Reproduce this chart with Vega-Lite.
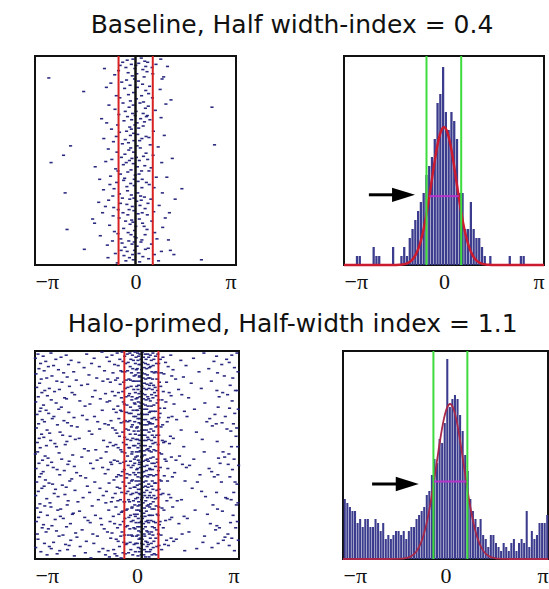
{
  "$schema": "https://vega.github.io/schema/vega-lite/v6.json",
  "background": "white",
  "padding": {"left": 32, "top": 12, "right": 0, "bottom": 0},
  "config": {
    "view": {"stroke": "#111111", "strokeWidth": 2},
    "axis": {"grid": false, "domain": false, "ticks": false, "title": null, "labelFont": "Liberation Serif", "labelFontSize": 22, "labelColor": "#111111", "labelPadding": 6},
    "title": {"font": "DejaVu Sans", "fontSize": 25, "fontWeight": "normal", "color": "#111111", "anchor": "middle"}
  },
  "datasets": {
    "topDots": [
      {"x":-2.71,"t":21},{"x":-2.64,"t":102},{"x":-2.25,"t":95},{"x":-2.2,"t":131},{"x":-2.14,"t":166},{"x":-2.03,"t":86},
      {"x":-1.62,"t":34},{"x":-1.6,"t":185},{"x":-1.34,"t":156},{"x":-1.26,"t":106},{"x":-1.28,"t":160},{"x":-1.15,"t":140},
      {"x":-1.1,"t":172},{"x":-1.06,"t":60},{"x":-1.12,"t":118},
      {"x":-1.0,"t":128},{"x":-0.97,"t":12},{"x":-1.03,"t":150},{"x":-0.99,"t":79},
      {"x":-0.94,"t":144},{"x":-0.9,"t":64},{"x":-0.88,"t":181},{"x":-0.93,"t":101},{"x":-0.91,"t":30},
      {"x":-0.86,"t":193},{"x":-0.83,"t":47},{"x":-0.8,"t":123},{"x":-0.85,"t":89},{"x":-0.81,"t":162},{"x":-0.84,"t":138},
      {"x":-0.78,"t":115},{"x":-0.75,"t":70},{"x":-0.72,"t":177},{"x":-0.7,"t":153},{"x":-0.77,"t":26},{"x":-0.74,"t":99},{"x":-0.71,"t":134},
      {"x":-0.69,"t":82},{"x":-0.66,"t":168},{"x":-0.64,"t":51},{"x":-0.62,"t":108},{"x":-0.68,"t":145},{"x":-0.65,"t":18},{"x":-0.63,"t":189},{"x":-0.67,"t":127},
      {"x":-0.6,"t":38},{"x":-0.58,"t":92},{"x":-0.55,"t":170},{"x":-0.53,"t":14},{"x":-0.59,"t":121},{"x":-0.56,"t":66},{"x":-0.54,"t":147},{"x":-0.57,"t":198},{"x":-0.6,"t":77},{"x":-0.55,"t":110},
      {"x":-0.52,"t":56},{"x":-0.5,"t":132},{"x":-0.48,"t":9},{"x":-0.46,"t":175},{"x":-0.44,"t":97},{"x":-0.51,"t":155},{"x":-0.49,"t":40},{"x":-0.47,"t":113},{"x":-0.45,"t":186},{"x":-0.5,"t":73},{"x":-0.47,"t":141},
      {"x":-0.43,"t":25},{"x":-0.41,"t":84},{"x":-0.39,"t":150},{"x":-0.37,"t":119},{"x":-0.36,"t":62},{"x":-0.42,"t":179},{"x":-0.4,"t":6},{"x":-0.38,"t":104},{"x":-0.36,"t":191},{"x":-0.41,"t":136},{"x":-0.39,"t":45},{"x":-0.37,"t":165},
      {"x":-0.34,"t":31},{"x":-0.33,"t":94},{"x":-0.31,"t":158},{"x":-0.3,"t":11},{"x":-0.28,"t":72},{"x":-0.27,"t":125},{"x":-0.33,"t":183},{"x":-0.32,"t":53},{"x":-0.29,"t":102},{"x":-0.27,"t":142},{"x":-0.34,"t":117},{"x":-0.3,"t":196},{"x":-0.28,"t":23},{"x":-0.32,"t":80},
      {"x":-0.26,"t":4},{"x":-0.25,"t":58},{"x":-0.24,"t":111},{"x":-0.23,"t":169},{"x":-0.22,"t":37},{"x":-0.21,"t":90},{"x":-0.2,"t":147},{"x":-0.19,"t":193},{"x":-0.18,"t":68},{"x":-0.25,"t":129},{"x":-0.23,"t":16},{"x":-0.21,"t":177},{"x":-0.2,"t":49},{"x":-0.19,"t":100},{"x":-0.24,"t":152},{"x":-0.22,"t":83},{"x":-0.18,"t":137},{"x":-0.26,"t":187},
      {"x":-0.17,"t":28},{"x":-0.16,"t":76},{"x":-0.15,"t":122},{"x":-0.14,"t":171},{"x":-0.13,"t":8},{"x":-0.12,"t":61},{"x":-0.11,"t":98},{"x":-0.1,"t":144},{"x":-0.09,"t":190},{"x":-0.16,"t":43},{"x":-0.14,"t":109},{"x":-0.12,"t":157},{"x":-0.1,"t":19},{"x":-0.15,"t":88},{"x":-0.13,"t":133},{"x":-0.11,"t":180},{"x":-0.09,"t":55},{"x":-0.17,"t":161},{"x":-0.13,"t":70},
      {"x":-0.08,"t":3},{"x":-0.07,"t":47},{"x":-0.06,"t":92},{"x":-0.05,"t":136},{"x":-0.04,"t":178},{"x":-0.03,"t":22},{"x":-0.02,"t":66},{"x":-0.01,"t":114},{"x":-0.08,"t":159},{"x":-0.07,"t":195},{"x":-0.06,"t":35},{"x":-0.05,"t":81},{"x":-0.04,"t":124},{"x":-0.03,"t":167},{"x":-0.02,"t":12},{"x":-0.01,"t":57},{"x":-0.07,"t":103},{"x":-0.05,"t":148},{"x":-0.03,"t":186},{"x":-0.06,"t":74},{"x":-0.04,"t":118},{"x":-0.02,"t":173},
      {"x":0.01,"t":9},{"x":0.02,"t":53},{"x":0.03,"t":97},{"x":0.04,"t":139},{"x":0.05,"t":182},{"x":0.06,"t":30},{"x":0.07,"t":75},{"x":0.08,"t":120},{"x":0.01,"t":163},{"x":0.03,"t":41},{"x":0.05,"t":86},{"x":0.07,"t":131},{"x":0.02,"t":174},{"x":0.04,"t":17},{"x":0.06,"t":106},{"x":0.08,"t":151},{"x":0.05,"t":64},
      {"x":0.09,"t":24},{"x":0.1,"t":69},{"x":0.11,"t":113},{"x":0.12,"t":156},{"x":0.13,"t":197},{"x":0.14,"t":45},{"x":0.15,"t":88},{"x":0.16,"t":134},{"x":0.17,"t":178},{"x":0.1,"t":7},{"x":0.12,"t":100},{"x":0.14,"t":143},{"x":0.16,"t":60},{"x":0.11,"t":189},{"x":0.13,"t":81},
      {"x":0.18,"t":2},{"x":0.19,"t":38},{"x":0.2,"t":79},{"x":0.21,"t":118},{"x":0.22,"t":160},{"x":0.23,"t":13},{"x":0.24,"t":55},{"x":0.25,"t":96},{"x":0.18,"t":138},{"x":0.2,"t":176},{"x":0.22,"t":27},{"x":0.24,"t":67},{"x":0.19,"t":110},{"x":0.21,"t":150},{"x":0.23,"t":192},{"x":0.25,"t":44},{"x":0.2,"t":126},
      {"x":0.27,"t":20},{"x":0.28,"t":63},{"x":0.29,"t":105},{"x":0.3,"t":146},{"x":0.31,"t":185},{"x":0.32,"t":33},{"x":0.33,"t":77},{"x":0.34,"t":121},{"x":0.27,"t":163},{"x":0.29,"t":5},{"x":0.31,"t":50},{"x":0.33,"t":93},{"x":0.28,"t":135},{"x":0.3,"t":171},{"x":0.32,"t":10},{"x":0.34,"t":58},
      {"x":0.36,"t":15},{"x":0.37,"t":57},{"x":0.38,"t":99},{"x":0.39,"t":141},{"x":0.4,"t":184},{"x":0.41,"t":36},{"x":0.42,"t":78},{"x":0.43,"t":123},{"x":0.36,"t":166},{"x":0.38,"t":6},{"x":0.4,"t":48},{"x":0.42,"t":110},{"x":0.37,"t":152},{"x":0.41,"t":194},
      {"x":0.44,"t":29},{"x":0.46,"t":85},{"x":0.48,"t":137},{"x":0.5,"t":180},{"x":0.52,"t":11},{"x":0.45,"t":61},{"x":0.49,"t":107},{"x":0.51,"t":158},
      {"x":0.53,"t":40},{"x":0.55,"t":95},{"x":0.57,"t":149},{"x":0.59,"t":190},{"x":0.54,"t":17},{"x":0.56,"t":72},{"x":0.58,"t":126},{"x":0.6,"t":169},
      {"x":0.62,"t":52},{"x":0.65,"t":116},{"x":0.67,"t":175},{"x":0.64,"t":8},
      {"x":0.72,"t":196},{"x":0.71,"t":87},{"x":0.74,"t":143},{"x":0.77,"t":32},
      {"x":0.79,"t":3},{"x":0.8,"t":59},{"x":0.82,"t":102},{"x":0.84,"t":131},{"x":0.85,"t":164},{"x":0.81,"t":187},{"x":0.83,"t":22},
      {"x":0.88,"t":20},{"x":0.9,"t":76},{"x":0.93,"t":155},{"x":0.95,"t":46},
      {"x":0.98,"t":116},{"x":1.0,"t":10},{"x":1.03,"t":176},
      {"x":1.09,"t":186},{"x":1.11,"t":42},{"x":1.06,"t":150},
      {"x":1.15,"t":98},{"x":1.2,"t":190},{"x":1.24,"t":137},{"x":1.45,"t":127},{"x":2.06,"t":195},{"x":2.39,"t":49},{"x":2.47,"t":85}
    ],
    "botDots": [
      {"x":-3.13,"t":7},{"x":-3.11,"t":22},{"x":-3.09,"t":35},{"x":-3.12,"t":49},{"x":-3.08,"t":61},{"x":-3.1,"t":74},{"x":-3.07,"t":88},{"x":-3.13,"t":99},{"x":-3.11,"t":113},{"x":-3.09,"t":126},{"x":-3.12,"t":139},{"x":-3.08,"t":151},{"x":-3.1,"t":164},{"x":-3.07,"t":176},{"x":-3.12,"t":189},
      {"x":-3.05,"t":3},{"x":-3.02,"t":17},{"x":-3.0,"t":31},{"x":-3.04,"t":44},{"x":-2.99,"t":58},{"x":-3.03,"t":70},{"x":-3.01,"t":84},{"x":-3.06,"t":97},{"x":-3.02,"t":108},{"x":-3.0,"t":121},{"x":-3.04,"t":135},{"x":-2.99,"t":147},{"x":-3.03,"t":160},{"x":-3.05,"t":181},
      {"x":-2.97,"t":12},{"x":-2.95,"t":27},{"x":-2.93,"t":40},{"x":-2.96,"t":55},{"x":-2.92,"t":66},{"x":-2.94,"t":80},{"x":-2.98,"t":93},{"x":-2.91,"t":105},{"x":-2.95,"t":118},{"x":-2.93,"t":132},{"x":-2.97,"t":155},{"x":-2.92,"t":170},{"x":-2.96,"t":193},
      {"x":-2.89,"t":5},{"x":-2.86,"t":19},{"x":-2.84,"t":38},{"x":-2.88,"t":52},{"x":-2.85,"t":68},{"x":-2.87,"t":83},{"x":-2.83,"t":101},{"x":-2.89,"t":116},{"x":-2.86,"t":130},{"x":-2.84,"t":149},{"x":-2.88,"t":167},{"x":-2.85,"t":185},
      {"x":-2.81,"t":10},{"x":-2.78,"t":26},{"x":-2.76,"t":43},{"x":-2.8,"t":57},{"x":-2.77,"t":76},{"x":-2.79,"t":91},{"x":-2.75,"t":110},{"x":-2.82,"t":124},{"x":-2.78,"t":142},{"x":-2.76,"t":158},{"x":-2.8,"t":174},{"x":-2.77,"t":196},
      {"x":-2.73,"t":15},{"x":-2.7,"t":36},{"x":-2.72,"t":60},{"x":-2.69,"t":79},{"x":-2.74,"t":103},{"x":-2.71,"t":127},{"x":-2.68,"t":146},{"x":-2.73,"t":171},{"x":-2.7,"t":188},
      {"x":-2.65,"t":2},{"x":-2.62,"t":24},{"x":-2.64,"t":47},{"x":-2.61,"t":65},{"x":-2.66,"t":86},{"x":-2.63,"t":107},{"x":-2.6,"t":128},{"x":-2.65,"t":150},{"x":-2.62,"t":168},{"x":-2.64,"t":190},
      {"x":-2.57,"t":14},{"x":-2.54,"t":39},{"x":-2.56,"t":63},{"x":-2.53,"t":89},{"x":-2.58,"t":112},{"x":-2.55,"t":137},{"x":-2.52,"t":162},{"x":-2.57,"t":184},
      {"x":-2.5,"t":8},{"x":-2.47,"t":29},{"x":-2.49,"t":50},{"x":-2.45,"t":71},{"x":-2.48,"t":92},{"x":-2.46,"t":114},{"x":-2.51,"t":133},{"x":-2.44,"t":153},{"x":-2.48,"t":173},{"x":-2.46,"t":195},
      {"x":-2.42,"t":18},{"x":-2.39,"t":37},{"x":-2.41,"t":56},{"x":-2.37,"t":78},{"x":-2.4,"t":98},{"x":-2.38,"t":119},{"x":-2.43,"t":140},{"x":-2.36,"t":159},{"x":-2.4,"t":178},{"x":-2.38,"t":192},
      {"x":-2.34,"t":6},{"x":-2.31,"t":30},{"x":-2.33,"t":54},{"x":-2.29,"t":81},{"x":-2.32,"t":104},{"x":-2.3,"t":129},{"x":-2.35,"t":152},{"x":-2.28,"t":177},
      {"x":-2.26,"t":21},{"x":-2.23,"t":45},{"x":-2.25,"t":67},{"x":-2.21,"t":90},{"x":-2.24,"t":115},{"x":-2.22,"t":138},{"x":-2.27,"t":161},{"x":-2.2,"t":186},
      {"x":-2.18,"t":4},{"x":-2.15,"t":25},{"x":-2.17,"t":46},{"x":-2.14,"t":69},{"x":-2.16,"t":87},{"x":-2.13,"t":109},{"x":-2.18,"t":131},{"x":-2.15,"t":148},{"x":-2.17,"t":169},{"x":-2.14,"t":191},
      {"x":-2.11,"t":13},{"x":-2.08,"t":34},{"x":-2.1,"t":59},{"x":-2.06,"t":82},{"x":-2.09,"t":106},{"x":-2.07,"t":125},{"x":-2.12,"t":144},{"x":-2.05,"t":166},{"x":-2.09,"t":187},
      {"x":-2.03,"t":9},{"x":-2.0,"t":40},{"x":-2.02,"t":72},{"x":-1.98,"t":100},{"x":-2.01,"t":123},{"x":-1.99,"t":157},{"x":-2.04,"t":182},
      {"x":-1.95,"t":20},{"x":-1.92,"t":42},{"x":-1.94,"t":64},{"x":-1.9,"t":85},{"x":-1.93,"t":111},{"x":-1.91,"t":134},{"x":-1.96,"t":156},{"x":-1.89,"t":175},{"x":-1.93,"t":197},
      {"x":-1.87,"t":28},{"x":-1.84,"t":73},{"x":-1.86,"t":117},{"x":-1.82,"t":145},{"x":-1.85,"t":179},
      {"x":-1.79,"t":11},{"x":-1.76,"t":48},{"x":-1.78,"t":84},{"x":-1.74,"t":120},{"x":-1.77,"t":154},{"x":-1.75,"t":188},
      {"x":-1.71,"t":33},{"x":-1.68,"t":62},{"x":-1.7,"t":102},{"x":-1.66,"t":141},{"x":-1.69,"t":172},
      {"x":-1.63,"t":16},{"x":-1.6,"t":53},{"x":-1.62,"t":94},{"x":-1.58,"t":122},{"x":-1.61,"t":160},{"x":-1.59,"t":194},
      {"x":-1.55,"t":3},{"x":-1.52,"t":32},{"x":-1.54,"t":66},{"x":-1.5,"t":96},{"x":-1.53,"t":130},{"x":-1.51,"t":163},{"x":-1.56,"t":183},
      {"x":-1.48,"t":23},{"x":-1.45,"t":51},{"x":-1.47,"t":77},{"x":-1.43,"t":108},{"x":-1.46,"t":136},{"x":-1.44,"t":165},{"x":-1.42,"t":199},
      {"x":-1.4,"t":12},{"x":-1.37,"t":44},{"x":-1.39,"t":80},{"x":-1.35,"t":113},{"x":-1.38,"t":149},{"x":-1.36,"t":176},
      {"x":-1.32,"t":7},{"x":-1.29,"t":38},{"x":-1.31,"t":63},{"x":-1.27,"t":95},{"x":-1.3,"t":126},{"x":-1.28,"t":158},{"x":-1.33,"t":185},
      {"x":-1.24,"t":26},{"x":-1.21,"t":68},{"x":-1.23,"t":105},{"x":-1.19,"t":143},{"x":-1.22,"t":178},
      {"x":-1.16,"t":15},{"x":-1.13,"t":46},{"x":-1.15,"t":75},{"x":-1.11,"t":103},{"x":-1.14,"t":132},{"x":-1.12,"t":161},{"x":-1.17,"t":193},
      {"x":-1.08,"t":1},{"x":-1.05,"t":29},{"x":-1.07,"t":57},{"x":-1.03,"t":86},{"x":-1.06,"t":112},{"x":-1.04,"t":139},{"x":-1.09,"t":167},{"x":-1.05,"t":190},
      {"x":-1.0,"t":19},{"x":-0.97,"t":41},{"x":-0.99,"t":70},{"x":-0.95,"t":97},{"x":-0.98,"t":118},{"x":-0.96,"t":146},{"x":-1.01,"t":171},{"x":-0.97,"t":196},
      {"x":-0.93,"t":6},{"x":-0.9,"t":27},{"x":-0.92,"t":49},{"x":-0.88,"t":71},{"x":-0.91,"t":92},{"x":-0.89,"t":114},{"x":-0.94,"t":135},{"x":-0.87,"t":153},{"x":-0.91,"t":174},{"x":-0.89,"t":192},
      {"x":-0.85,"t":10},{"x":-0.82,"t":30},{"x":-0.84,"t":48},{"x":-0.8,"t":67},{"x":-0.83,"t":88},{"x":-0.81,"t":107},{"x":-0.86,"t":127},{"x":-0.79,"t":145},{"x":-0.83,"t":164},{"x":-0.81,"t":180},{"x":-0.85,"t":198},
      {"x":-0.77,"t":4},{"x":-0.74,"t":21},{"x":-0.76,"t":39},{"x":-0.72,"t":56},{"x":-0.75,"t":74},{"x":-0.73,"t":91},{"x":-0.78,"t":109},{"x":-0.71,"t":124},{"x":-0.75,"t":141},{"x":-0.73,"t":159},{"x":-0.77,"t":175},{"x":-0.72,"t":191},
      {"x":-0.69,"t":13},{"x":-0.66,"t":28},{"x":-0.68,"t":43},{"x":-0.64,"t":59},{"x":-0.67,"t":76},{"x":-0.65,"t":90},{"x":-0.7,"t":105},{"x":-0.63,"t":121},{"x":-0.67,"t":137},{"x":-0.65,"t":150},{"x":-0.69,"t":166},{"x":-0.64,"t":181},{"x":-0.68,"t":195},
      {"x":-0.61,"t":2},{"x":-0.58,"t":14},{"x":-0.6,"t":26},{"x":-0.57,"t":40},{"x":-0.59,"t":53},{"x":-0.56,"t":65},{"x":-0.62,"t":79},{"x":-0.58,"t":93},{"x":-0.6,"t":106},{"x":-0.57,"t":119},{"x":-0.61,"t":131},{"x":-0.59,"t":144},{"x":-0.56,"t":157},{"x":-0.6,"t":170},{"x":-0.58,"t":183},{"x":-0.62,"t":197},
      {"x":-0.53,"t":8},{"x":-0.5,"t":19},{"x":-0.52,"t":32},{"x":-0.48,"t":45},{"x":-0.51,"t":57},{"x":-0.49,"t":69},{"x":-0.54,"t":82},{"x":-0.5,"t":95},{"x":-0.52,"t":108},{"x":-0.49,"t":120},{"x":-0.53,"t":132},{"x":-0.51,"t":143},{"x":-0.48,"t":155},{"x":-0.52,"t":167},{"x":-0.5,"t":178},{"x":-0.54,"t":188},{"x":-0.49,"t":199},
      {"x":-0.46,"t":1},{"x":-0.43,"t":10},{"x":-0.45,"t":20},{"x":-0.41,"t":30},{"x":-0.44,"t":39},{"x":-0.42,"t":49},{"x":-0.47,"t":58},{"x":-0.4,"t":68},{"x":-0.44,"t":78},{"x":-0.42,"t":88},{"x":-0.46,"t":97},{"x":-0.41,"t":107},{"x":-0.45,"t":116},{"x":-0.43,"t":126},{"x":-0.47,"t":136},{"x":-0.4,"t":145},{"x":-0.44,"t":154},{"x":-0.42,"t":164},{"x":-0.46,"t":174},{"x":-0.41,"t":184},{"x":-0.43,"t":194},
      {"x":-0.38,"t":5},{"x":-0.35,"t":12},{"x":-0.37,"t":20},{"x":-0.33,"t":28},{"x":-0.36,"t":36},{"x":-0.34,"t":44},{"x":-0.39,"t":51},{"x":-0.32,"t":59},{"x":-0.36,"t":67},{"x":-0.34,"t":75},{"x":-0.38,"t":83},{"x":-0.33,"t":90},{"x":-0.37,"t":98},{"x":-0.35,"t":106},{"x":-0.39,"t":114},{"x":-0.32,"t":122},{"x":-0.36,"t":130},{"x":-0.34,"t":137},{"x":-0.38,"t":145},{"x":-0.33,"t":153},{"x":-0.37,"t":161},{"x":-0.35,"t":169},{"x":-0.39,"t":177},{"x":-0.34,"t":186},{"x":-0.36,"t":195},
      {"x":-0.3,"t":3},{"x":-0.27,"t":11},{"x":-0.29,"t":19},{"x":-0.25,"t":27},{"x":-0.28,"t":35},{"x":-0.26,"t":43},{"x":-0.31,"t":52},{"x":-0.24,"t":60},{"x":-0.28,"t":68},{"x":-0.26,"t":76},{"x":-0.3,"t":85},{"x":-0.25,"t":93},{"x":-0.29,"t":101},{"x":-0.27,"t":110},{"x":-0.31,"t":118},{"x":-0.24,"t":127},{"x":-0.28,"t":135},{"x":-0.26,"t":143},{"x":-0.3,"t":152},{"x":-0.25,"t":160},{"x":-0.29,"t":168},{"x":-0.27,"t":177},{"x":-0.31,"t":185},{"x":-0.26,"t":194},
      {"x":-0.22,"t":2},{"x":-0.19,"t":8},{"x":-0.21,"t":15},{"x":-0.17,"t":21},{"x":-0.2,"t":28},{"x":-0.18,"t":34},{"x":-0.23,"t":41},{"x":-0.16,"t":47},{"x":-0.2,"t":54},{"x":-0.18,"t":60},{"x":-0.22,"t":67},{"x":-0.17,"t":73},{"x":-0.21,"t":80},{"x":-0.19,"t":86},{"x":-0.23,"t":93},{"x":-0.16,"t":99},{"x":-0.2,"t":106},{"x":-0.18,"t":112},{"x":-0.22,"t":119},{"x":-0.17,"t":125},{"x":-0.21,"t":132},{"x":-0.19,"t":138},{"x":-0.23,"t":145},{"x":-0.16,"t":151},{"x":-0.2,"t":158},{"x":-0.18,"t":164},{"x":-0.22,"t":171},{"x":-0.17,"t":177},{"x":-0.21,"t":184},{"x":-0.19,"t":191},
      {"x":-0.14,"t":4},{"x":-0.11,"t":9},{"x":-0.13,"t":17},{"x":-0.09,"t":24},{"x":-0.12,"t":29},{"x":-0.1,"t":37},{"x":-0.15,"t":44},{"x":-0.08,"t":50},{"x":-0.12,"t":57},{"x":-0.1,"t":63},{"x":-0.14,"t":71},{"x":-0.09,"t":77},{"x":-0.13,"t":84},{"x":-0.11,"t":91},{"x":-0.15,"t":97},{"x":-0.08,"t":104},{"x":-0.12,"t":110},{"x":-0.1,"t":117},{"x":-0.14,"t":124},{"x":-0.09,"t":131},{"x":-0.13,"t":137},{"x":-0.11,"t":144},{"x":-0.15,"t":150},{"x":-0.08,"t":157},{"x":-0.12,"t":163},{"x":-0.1,"t":170},{"x":-0.14,"t":178},{"x":-0.09,"t":186},{"x":-0.13,"t":196},
      {"x":-0.06,"t":1},{"x":-0.03,"t":6},{"x":-0.05,"t":12},{"x":-0.02,"t":18},{"x":-0.04,"t":23},{"x":-0.07,"t":29},{"x":-0.01,"t":34},{"x":-0.05,"t":40},{"x":-0.03,"t":46},{"x":-0.06,"t":51},{"x":-0.02,"t":57},{"x":-0.04,"t":63},{"x":-0.07,"t":68},{"x":-0.01,"t":74},{"x":-0.05,"t":80},{"x":-0.03,"t":85},{"x":-0.06,"t":91},{"x":-0.02,"t":97},{"x":-0.04,"t":102},{"x":-0.07,"t":108},{"x":-0.01,"t":114},{"x":-0.05,"t":119},{"x":-0.03,"t":125},{"x":-0.06,"t":131},{"x":-0.02,"t":136},{"x":-0.04,"t":142},{"x":-0.07,"t":148},{"x":-0.01,"t":153},{"x":-0.05,"t":159},{"x":-0.03,"t":165},{"x":-0.06,"t":171},{"x":-0.02,"t":178},{"x":-0.04,"t":185},{"x":-0.05,"t":193},
      {"x":0.02,"t":2},{"x":0.05,"t":5},{"x":0.03,"t":9},{"x":0.06,"t":13},{"x":0.01,"t":17},{"x":0.04,"t":21},{"x":0.07,"t":25},{"x":0.02,"t":29},{"x":0.05,"t":33},{"x":0.03,"t":37},{"x":0.06,"t":41},{"x":0.01,"t":45},{"x":0.04,"t":49},{"x":0.07,"t":53},{"x":0.02,"t":57},{"x":0.05,"t":61},{"x":0.03,"t":65},{"x":0.06,"t":69},{"x":0.01,"t":73},{"x":0.04,"t":77},{"x":0.07,"t":81},{"x":0.02,"t":85},{"x":0.05,"t":89},{"x":0.03,"t":93},{"x":0.06,"t":97},{"x":0.01,"t":101},{"x":0.04,"t":105},{"x":0.07,"t":109},{"x":0.02,"t":113},{"x":0.05,"t":117},{"x":0.03,"t":121},{"x":0.06,"t":125},{"x":0.01,"t":129},{"x":0.04,"t":133},{"x":0.07,"t":137},{"x":0.02,"t":141},{"x":0.05,"t":145},{"x":0.03,"t":149},{"x":0.06,"t":153},{"x":0.01,"t":157},{"x":0.04,"t":161},{"x":0.07,"t":165},{"x":0.02,"t":169},{"x":0.05,"t":173},{"x":0.03,"t":177},{"x":0.06,"t":181},{"x":0.01,"t":185},{"x":0.04,"t":189},{"x":0.07,"t":193},{"x":0.03,"t":197},
      {"x":0.09,"t":3},{"x":0.12,"t":8},{"x":0.1,"t":13},{"x":0.14,"t":18},{"x":0.08,"t":24},{"x":0.11,"t":29},{"x":0.15,"t":34},{"x":0.13,"t":39},{"x":0.09,"t":44},{"x":0.12,"t":50},{"x":0.1,"t":55},{"x":0.14,"t":60},{"x":0.08,"t":65},{"x":0.11,"t":70},{"x":0.15,"t":76},{"x":0.13,"t":81},{"x":0.09,"t":86},{"x":0.12,"t":91},{"x":0.1,"t":96},{"x":0.14,"t":102},{"x":0.08,"t":107},{"x":0.11,"t":112},{"x":0.15,"t":117},{"x":0.13,"t":122},{"x":0.09,"t":128},{"x":0.12,"t":133},{"x":0.1,"t":138},{"x":0.14,"t":143},{"x":0.08,"t":148},{"x":0.11,"t":154},{"x":0.15,"t":159},{"x":0.13,"t":164},{"x":0.09,"t":169},{"x":0.12,"t":174},{"x":0.1,"t":180},{"x":0.14,"t":185},{"x":0.11,"t":190},{"x":0.13,"t":196},
      {"x":0.17,"t":1},{"x":0.2,"t":6},{"x":0.18,"t":11},{"x":0.22,"t":16},{"x":0.16,"t":21},{"x":0.19,"t":26},{"x":0.23,"t":31},{"x":0.21,"t":36},{"x":0.17,"t":41},{"x":0.2,"t":46},{"x":0.18,"t":51},{"x":0.22,"t":56},{"x":0.16,"t":61},{"x":0.19,"t":66},{"x":0.23,"t":71},{"x":0.21,"t":76},{"x":0.17,"t":81},{"x":0.2,"t":86},{"x":0.18,"t":91},{"x":0.22,"t":96},{"x":0.16,"t":101},{"x":0.19,"t":106},{"x":0.23,"t":111},{"x":0.21,"t":116},{"x":0.17,"t":121},{"x":0.2,"t":126},{"x":0.18,"t":131},{"x":0.22,"t":136},{"x":0.16,"t":141},{"x":0.19,"t":146},{"x":0.23,"t":151},{"x":0.21,"t":156},{"x":0.17,"t":161},{"x":0.2,"t":166},{"x":0.18,"t":171},{"x":0.22,"t":176},{"x":0.16,"t":181},{"x":0.19,"t":186},{"x":0.23,"t":191},{"x":0.21,"t":196},
      {"x":0.25,"t":3},{"x":0.28,"t":8},{"x":0.26,"t":12},{"x":0.3,"t":17},{"x":0.24,"t":22},{"x":0.27,"t":27},{"x":0.31,"t":32},{"x":0.29,"t":37},{"x":0.25,"t":42},{"x":0.28,"t":47},{"x":0.26,"t":52},{"x":0.3,"t":56},{"x":0.24,"t":61},{"x":0.27,"t":66},{"x":0.31,"t":71},{"x":0.29,"t":76},{"x":0.25,"t":81},{"x":0.28,"t":86},{"x":0.26,"t":91},{"x":0.3,"t":95},{"x":0.24,"t":100},{"x":0.27,"t":105},{"x":0.31,"t":110},{"x":0.29,"t":115},{"x":0.25,"t":120},{"x":0.28,"t":125},{"x":0.26,"t":130},{"x":0.3,"t":134},{"x":0.24,"t":139},{"x":0.27,"t":144},{"x":0.31,"t":149},{"x":0.29,"t":154},{"x":0.25,"t":159},{"x":0.28,"t":164},{"x":0.26,"t":169},{"x":0.3,"t":173},{"x":0.24,"t":178},{"x":0.27,"t":183},{"x":0.31,"t":188},{"x":0.29,"t":193},{"x":0.26,"t":198},
      {"x":0.33,"t":3},{"x":0.36,"t":6},{"x":0.34,"t":13},{"x":0.38,"t":16},{"x":0.32,"t":23},{"x":0.35,"t":26},{"x":0.39,"t":33},{"x":0.37,"t":36},{"x":0.33,"t":44},{"x":0.36,"t":46},{"x":0.34,"t":53},{"x":0.38,"t":59},{"x":0.32,"t":61},{"x":0.35,"t":68},{"x":0.39,"t":70},{"x":0.37,"t":78},{"x":0.33,"t":83},{"x":0.36,"t":85},{"x":0.34,"t":94},{"x":0.38,"t":96},{"x":0.32,"t":104},{"x":0.35,"t":106},{"x":0.39,"t":113},{"x":0.37,"t":119},{"x":0.33,"t":121},{"x":0.36,"t":128},{"x":0.34,"t":131},{"x":0.38,"t":139},{"x":0.32,"t":141},{"x":0.35,"t":148},{"x":0.39,"t":150},{"x":0.37,"t":158},{"x":0.33,"t":163},{"x":0.36,"t":165},{"x":0.34,"t":174},{"x":0.38,"t":176},{"x":0.32,"t":184},{"x":0.35,"t":186},{"x":0.39,"t":193},{"x":0.37,"t":198},
      {"x":0.41,"t":4},{"x":0.44,"t":9},{"x":0.42,"t":15},{"x":0.46,"t":20},{"x":0.4,"t":26},{"x":0.43,"t":31},{"x":0.47,"t":37},{"x":0.45,"t":42},{"x":0.41,"t":48},{"x":0.44,"t":53},{"x":0.42,"t":58},{"x":0.46,"t":65},{"x":0.4,"t":69},{"x":0.43,"t":75},{"x":0.47,"t":81},{"x":0.45,"t":86},{"x":0.41,"t":92},{"x":0.44,"t":97},{"x":0.42,"t":103},{"x":0.46,"t":108},{"x":0.4,"t":114},{"x":0.43,"t":119},{"x":0.47,"t":125},{"x":0.45,"t":130},{"x":0.41,"t":136},{"x":0.44,"t":141},{"x":0.42,"t":147},{"x":0.46,"t":152},{"x":0.4,"t":158},{"x":0.43,"t":163},{"x":0.47,"t":169},{"x":0.45,"t":174},{"x":0.41,"t":180},{"x":0.44,"t":185},{"x":0.42,"t":191},{"x":0.46,"t":196},
      {"x":0.49,"t":2},{"x":0.52,"t":8},{"x":0.5,"t":14},{"x":0.53,"t":21},{"x":0.48,"t":27},{"x":0.51,"t":33},{"x":0.54,"t":40},{"x":0.49,"t":45},{"x":0.52,"t":52},{"x":0.5,"t":58},{"x":0.53,"t":64},{"x":0.48,"t":70},{"x":0.51,"t":77},{"x":0.54,"t":83},{"x":0.49,"t":89},{"x":0.52,"t":95},{"x":0.5,"t":102},{"x":0.53,"t":108},{"x":0.48,"t":114},{"x":0.51,"t":120},{"x":0.54,"t":127},{"x":0.49,"t":133},{"x":0.52,"t":139},{"x":0.5,"t":145},{"x":0.53,"t":152},{"x":0.48,"t":158},{"x":0.51,"t":164},{"x":0.54,"t":170},{"x":0.49,"t":177},{"x":0.52,"t":183},{"x":0.5,"t":189},{"x":0.53,"t":195},
      {"x":0.57,"t":5},{"x":0.6,"t":12},{"x":0.58,"t":20},{"x":0.61,"t":27},{"x":0.56,"t":35},{"x":0.59,"t":43},{"x":0.62,"t":50},{"x":0.57,"t":58},{"x":0.6,"t":66},{"x":0.58,"t":73},{"x":0.61,"t":81},{"x":0.56,"t":88},{"x":0.59,"t":96},{"x":0.62,"t":104},{"x":0.57,"t":111},{"x":0.6,"t":119},{"x":0.58,"t":127},{"x":0.61,"t":134},{"x":0.56,"t":142},{"x":0.59,"t":149},{"x":0.62,"t":157},{"x":0.57,"t":165},{"x":0.6,"t":172},{"x":0.58,"t":180},{"x":0.61,"t":188},{"x":0.59,"t":196},
      {"x":0.64,"t":3},{"x":0.67,"t":12},{"x":0.65,"t":21},{"x":0.69,"t":30},{"x":0.63,"t":38},{"x":0.66,"t":47},{"x":0.7,"t":55},{"x":0.68,"t":64},{"x":0.64,"t":72},{"x":0.67,"t":81},{"x":0.65,"t":90},{"x":0.69,"t":98},{"x":0.63,"t":107},{"x":0.66,"t":115},{"x":0.7,"t":124},{"x":0.68,"t":133},{"x":0.64,"t":141},{"x":0.67,"t":150},{"x":0.65,"t":158},{"x":0.69,"t":167},{"x":0.66,"t":176},{"x":0.68,"t":187},
      {"x":0.72,"t":8},{"x":0.75,"t":21},{"x":0.73,"t":34},{"x":0.77,"t":47},{"x":0.71,"t":60},{"x":0.74,"t":73},{"x":0.78,"t":86},{"x":0.76,"t":99},{"x":0.72,"t":112},{"x":0.75,"t":125},{"x":0.73,"t":138},{"x":0.77,"t":151},{"x":0.71,"t":164},{"x":0.74,"t":177},{"x":0.76,"t":191},
      {"x":0.8,"t":6},{"x":0.83,"t":22},{"x":0.81,"t":39},{"x":0.85,"t":55},{"x":0.79,"t":71},{"x":0.82,"t":88},{"x":0.86,"t":104},{"x":0.84,"t":120},{"x":0.8,"t":137},{"x":0.83,"t":153},{"x":0.81,"t":170},{"x":0.85,"t":186},
      {"x":0.88,"t":11},{"x":0.91,"t":30},{"x":0.89,"t":49},{"x":0.93,"t":68},{"x":0.87,"t":87},{"x":0.9,"t":106},{"x":0.94,"t":125},{"x":0.92,"t":144},{"x":0.88,"t":163},{"x":0.91,"t":182},
      {"x":0.96,"t":15},{"x":0.99,"t":40},{"x":0.97,"t":64},{"x":1.0,"t":89},{"x":0.95,"t":113},{"x":0.98,"t":138},{"x":1.01,"t":162},{"x":0.97,"t":187},
      {"x":1.04,"t":4},{"x":1.07,"t":24},{"x":1.05,"t":43},{"x":1.08,"t":63},{"x":1.03,"t":82},{"x":1.06,"t":102},{"x":1.09,"t":121},{"x":1.04,"t":141},{"x":1.07,"t":160},{"x":1.05,"t":180},
      {"x":1.11,"t":18},{"x":1.14,"t":51},{"x":1.12,"t":84},{"x":1.16,"t":117},{"x":1.1,"t":150},{"x":1.13,"t":183},
      {"x":1.19,"t":27},{"x":1.22,"t":66},{"x":1.2,"t":105},{"x":1.24,"t":144},{"x":1.21,"t":181},
      {"x":1.28,"t":37},{"x":1.31,"t":101},{"x":1.29,"t":166},
      {"x":1.35,"t":9},{"x":1.38,"t":42},{"x":1.36,"t":76},{"x":1.4,"t":109},{"x":1.37,"t":143},{"x":1.39,"t":176},
      {"x":1.43,"t":25},{"x":1.46,"t":58},{"x":1.44,"t":92},{"x":1.48,"t":125},{"x":1.45,"t":159},{"x":1.47,"t":192},
      {"x":1.51,"t":14},{"x":1.54,"t":63},{"x":1.52,"t":112},{"x":1.55,"t":161},
      {"x":1.59,"t":45},{"x":1.62,"t":110},{"x":1.6,"t":174},
      {"x":1.67,"t":31},{"x":1.7,"t":132},
      {"x":1.74,"t":7},{"x":1.77,"t":56},{"x":1.75,"t":104},{"x":1.79,"t":153},
      {"x":1.83,"t":78},{"x":1.86,"t":126},{"x":1.84,"t":190},
      {"x":1.91,"t":20},{"x":1.94,"t":119},
      {"x":1.98,"t":36},{"x":2.01,"t":85},{"x":1.99,"t":135},{"x":2.03,"t":184},
      {"x":2.06,"t":2},{"x":2.09,"t":50},{"x":2.07,"t":97},{"x":2.11,"t":140},{"x":2.08,"t":178},
      {"x":2.15,"t":68},{"x":2.17,"t":157},
      {"x":2.21,"t":17},{"x":2.24,"t":65},{"x":2.22,"t":113},{"x":2.26,"t":166},
      {"x":2.29,"t":29},{"x":2.32,"t":72},{"x":2.3,"t":116},{"x":2.34,"t":148},{"x":2.31,"t":189},
      {"x":2.37,"t":10},{"x":2.4,"t":61},{"x":2.38,"t":121},{"x":2.42,"t":172},
      {"x":2.45,"t":5},{"x":2.48,"t":21},{"x":2.46,"t":38},{"x":2.5,"t":54},{"x":2.44,"t":70},{"x":2.47,"t":87},{"x":2.51,"t":103},{"x":2.49,"t":119},{"x":2.45,"t":136},{"x":2.48,"t":152},{"x":2.46,"t":168},{"x":2.5,"t":185},
      {"x":2.53,"t":44},{"x":2.56,"t":108},{"x":2.54,"t":170},
      {"x":2.61,"t":13},{"x":2.64,"t":40},{"x":2.62,"t":69},{"x":2.65,"t":97},{"x":2.6,"t":126},{"x":2.63,"t":154},{"x":2.66,"t":182},
      {"x":2.69,"t":24},{"x":2.72,"t":63},{"x":2.7,"t":102},{"x":2.73,"t":141},{"x":2.71,"t":179},
      {"x":2.76,"t":8},{"x":2.79,"t":42},{"x":2.77,"t":75},{"x":2.81,"t":109},{"x":2.78,"t":142},{"x":2.8,"t":176},
      {"x":2.84,"t":11},{"x":2.87,"t":33},{"x":2.85,"t":55},{"x":2.89,"t":77},{"x":2.83,"t":99},{"x":2.86,"t":121},{"x":2.9,"t":143},{"x":2.88,"t":165},{"x":2.84,"t":187},
      {"x":2.92,"t":4},{"x":2.95,"t":26},{"x":2.93,"t":48},{"x":2.97,"t":70},{"x":2.91,"t":92},{"x":2.94,"t":114},{"x":2.98,"t":136},{"x":2.96,"t":158},{"x":2.92,"t":180},
      {"x":3.0,"t":16},{"x":3.03,"t":38},{"x":3.01,"t":60},{"x":3.05,"t":82},{"x":2.99,"t":104},{"x":3.02,"t":126},{"x":3.06,"t":148},{"x":3.04,"t":170},{"x":3.0,"t":192},
      {"x":3.08,"t":2},{"x":3.11,"t":20},{"x":3.09,"t":38},{"x":3.12,"t":56},{"x":3.07,"t":74},{"x":3.1,"t":92},{"x":3.13,"t":110},{"x":3.08,"t":128},{"x":3.11,"t":146},{"x":3.09,"t":164},{"x":3.12,"t":182}
    ],
    "topCurve": [
      {"x":-3.14159265,"y":0},{"x":-1.6,"y":0},{"x":-1.4,"y":0.02},{"x":-1.3,"y":0.06},{"x":-1.2,"y":0.13},{"x":-1.1,"y":0.29},{"x":-1.0,"y":0.57},{"x":-0.9,"y":1.07},{"x":-0.8,"y":1.87},{"x":-0.7,"y":3.06},{"x":-0.6,"y":4.68},{"x":-0.5,"y":6.73},{"x":-0.4,"y":9.04},{"x":-0.3,"y":11.38},{"x":-0.2,"y":13.41},{"x":-0.1,"y":14.81},
      {"x":0,"y":15.3},
      {"x":0.1,"y":14.81},{"x":0.2,"y":13.41},{"x":0.3,"y":11.38},{"x":0.4,"y":9.04},{"x":0.5,"y":6.73},{"x":0.6,"y":4.68},{"x":0.7,"y":3.06},{"x":0.8,"y":1.87},{"x":0.9,"y":1.07},{"x":1.0,"y":0.57},{"x":1.1,"y":0.29},{"x":1.2,"y":0.13},{"x":1.3,"y":0.06},{"x":1.4,"y":0.02},{"x":1.6,"y":0},{"x":3.14159265,"y":0}
    ],
    "botCurve": [
      {"x":-3.14159265,"y":0},{"x":-1.76,"y":0},{"x":-1.56,"y":0.01},{"x":-1.36,"y":0.07},{"x":-1.26,"y":0.15},{"x":-1.16,"y":0.32},{"x":-1.06,"y":0.65},{"x":-0.96,"y":1.26},{"x":-0.86,"y":2.28},{"x":-0.76,"y":3.9},{"x":-0.66,"y":6.3},{"x":-0.56,"y":9.65},{"x":-0.46,"y":13.95},{"x":-0.36,"y":19.1},{"x":-0.26,"y":24.6},{"x":-0.16,"y":30.0},{"x":-0.06,"y":34.6},{"x":0.04,"y":37.65},
      {"x":0.14,"y":38.75},
      {"x":0.24,"y":37.65},{"x":0.34,"y":34.6},{"x":0.44,"y":30.0},{"x":0.54,"y":24.6},{"x":0.64,"y":19.1},{"x":0.74,"y":13.95},{"x":0.84,"y":9.65},{"x":0.94,"y":6.3},{"x":1.04,"y":3.9},{"x":1.14,"y":2.28},{"x":1.24,"y":1.26},{"x":1.34,"y":0.65},{"x":1.44,"y":0.32},{"x":1.54,"y":0.15},{"x":1.64,"y":0.07},{"x":1.84,"y":0.01},{"x":2.04,"y":0},{"x":3.14159265,"y":0}
    ]
  },
  "spacing": 18,
  "vconcat": [
    {
      "title": {"text": "Baseline, Half width-index = 0.4", "offset": 16},
      "bounds": "flush",
      "spacing": 108,
      "hconcat": [
        {
          "width": 201, "height": 209,
          "layer": [
            {
              "data": {"name": "topDots"},
              "mark": {"type": "point", "shape": "M-1,-0.5H1V0.5H-1Z", "filled": true, "size": 10, "color": "#1f1f7a", "opacity": 0.95},
              "encoding": {
                "x": {"field": "x", "type": "quantitative", "scale": {"domain": [-3.14159265, 3.14159265], "nice": false, "zero": false},
                      "axis": {"values": [-3.14159265, 0, 3.14159265], "labelExpr": "datum.value < -1 ? '−π' : (datum.value > 1 ? 'π' : '0')", "labelFlush": true}},
                "y": {"field": "t", "type": "quantitative", "scale": {"domain": [0, 200], "reverse": true, "nice": false}, "axis": null}
              }
            },
            {
              "data": {"values": [{"x": -0.53}, {"x": 0.54}]},
              "mark": {"type": "rule", "color": "#d82222", "strokeWidth": 2},
              "encoding": {"x": {"field": "x", "type": "quantitative"}}
            },
            {
              "data": {"values": [{"x": 0}]},
              "mark": {"type": "rule", "color": "#111111", "strokeWidth": 2.5},
              "encoding": {"x": {"field": "x", "type": "quantitative"}}
            }
          ]
        },
        {
          "width": 200, "height": 209,
          "layer": [
            {
              "data": {"name": "topDots"},
              "transform": [
                {"bin": {"extent": [-3.14159265, 3.14159265], "step": 0.0872664626, "nice": false, "anchor": -3.14159265}, "field": "x", "as": ["b0", "b1"]},
                {"aggregate": [{"op": "count", "as": "n"}], "groupby": ["b0", "b1"]}
              ],
              "mark": {"type": "bar", "color": "#3c3c8e", "binSpacing": 0.5},
              "encoding": {
                "x": {"field": "b0", "type": "quantitative", "bin": "binned",
                      "scale": {"domain": [-3.14159265, 3.14159265], "nice": false, "zero": false},
                      "axis": {"values": [-3.14159265, 0, 3.14159265], "labelExpr": "datum.value < -1 ? '−π' : (datum.value > 1 ? 'π' : '0')", "labelFlush": true}},
                "x2": {"field": "b1"},
                "y": {"field": "n", "type": "quantitative", "scale": {"domain": [0, 23.22], "nice": false, "zero": true}, "axis": null}
              }
            },
            {
              "data": {"name": "topCurve"},
              "mark": {"type": "line", "color": "#cc1a2e", "strokeWidth": 2.5, "interpolate": "monotone"},
              "encoding": {
                "x": {"field": "x", "type": "quantitative"},
                "y": {"field": "y", "type": "quantitative"}
              }
            },
            {
              "data": {"values": [{"x": -0.55}, {"x": 0.54}]},
              "mark": {"type": "rule", "color": "#3ddc3d", "strokeWidth": 2},
              "encoding": {"x": {"field": "x", "type": "quantitative"}}
            },
            {
              "data": {"values": [{"x": -0.46, "x2": 0.46, "y": 7.65}]},
              "mark": {"type": "rule", "color": "#b535c8", "strokeWidth": 2},
              "encoding": {"x": {"field": "x", "type": "quantitative"}, "x2": {"field": "x2"}, "y": {"field": "y", "type": "quantitative"}}
            },
            {
              "data": {"values": [{"x": -2.36, "x2": -1.4, "y": 7.8}]},
              "mark": {"type": "rule", "color": "#000000", "strokeWidth": 3},
              "encoding": {"x": {"field": "x", "type": "quantitative"}, "x2": {"field": "x2"}, "y": {"field": "y", "type": "quantitative"}}
            },
            {
              "data": {"values": [{"x": -0.91, "y": 7.8}]},
              "mark": {"type": "point", "shape": "M0,0L-2,-0.62L-2,0.62Z", "filled": true, "size": 529, "color": "#000000", "opacity": 1},
              "encoding": {"x": {"field": "x", "type": "quantitative"}, "y": {"field": "y", "type": "quantitative"}}
            }
          ]
        }
      ]
    },
    {
      "title": {"text": "Halo-primed, Half-width index = 1.1", "offset": 12},
      "bounds": "flush",
      "spacing": 104,
      "hconcat": [
        {
          "width": 204, "height": 208,
          "layer": [
            {
              "data": {"name": "botDots"},
              "mark": {"type": "point", "shape": "M-1,-0.5H1V0.5H-1Z", "filled": true, "size": 10, "color": "#1f1f7a", "opacity": 0.95},
              "encoding": {
                "x": {"field": "x", "type": "quantitative", "scale": {"domain": [-3.14159265, 3.14159265], "nice": false, "zero": false},
                      "axis": {"values": [-3.14159265, 0, 3.14159265], "labelExpr": "datum.value < -1 ? '−π' : (datum.value > 1 ? 'π' : '0')", "labelFlush": true}},
                "y": {"field": "t", "type": "quantitative", "scale": {"domain": [0, 200], "reverse": true, "nice": false}, "axis": null}
              }
            },
            {
              "data": {"values": [{"x": -0.39}, {"x": 0.66}]},
              "mark": {"type": "rule", "color": "#d82222", "strokeWidth": 2},
              "encoding": {"x": {"field": "x", "type": "quantitative"}}
            },
            {
              "data": {"values": [{"x": 0.145}]},
              "mark": {"type": "rule", "color": "#111111", "strokeWidth": 2.5},
              "encoding": {"x": {"field": "x", "type": "quantitative"}}
            }
          ]
        },
        {
          "width": 205, "height": 208,
          "layer": [
            {
              "data": {"name": "botDots"},
              "transform": [
                {"bin": {"extent": [-3.14159265, 3.14159265], "step": 0.0785398163, "nice": false, "anchor": -3.14159265}, "field": "x", "as": ["b0", "b1"]},
                {"aggregate": [{"op": "count", "as": "n"}], "groupby": ["b0", "b1"]}
              ],
              "mark": {"type": "bar", "color": "#3c3c8e", "binSpacing": 0.5},
              "encoding": {
                "x": {"field": "b0", "type": "quantitative", "bin": "binned",
                      "scale": {"domain": [-3.14159265, 3.14159265], "nice": false, "zero": false},
                      "axis": {"values": [-3.14159265, 0, 3.14159265], "labelExpr": "datum.value < -1 ? '−π' : (datum.value > 1 ? 'π' : '0')", "labelFlush": true}},
                "x2": {"field": "b1"},
                "y": {"field": "n", "type": "quantitative", "scale": {"domain": [0, 52], "nice": false, "zero": true}, "axis": null}
              }
            },
            {
              "data": {"name": "botCurve"},
              "mark": {"type": "line", "color": "#a8284a", "strokeWidth": 1.8, "interpolate": "monotone"},
              "encoding": {
                "x": {"field": "x", "type": "quantitative"},
                "y": {"field": "y", "type": "quantitative"}
              }
            },
            {
              "data": {"values": [{"x": -0.37}, {"x": 0.67}]},
              "mark": {"type": "rule", "color": "#3ddc3d", "strokeWidth": 2},
              "encoding": {"x": {"field": "x", "type": "quantitative"}}
            },
            {
              "data": {"values": [{"x": -0.355, "x2": 0.635, "y": 19.4}]},
              "mark": {"type": "rule", "color": "#b535c8", "strokeWidth": 2},
              "encoding": {"x": {"field": "x", "type": "quantitative"}, "x2": {"field": "x2"}, "y": {"field": "y", "type": "quantitative"}}
            },
            {
              "data": {"values": [{"x": -2.25, "x2": -1.3, "y": 18.75}]},
              "mark": {"type": "rule", "color": "#000000", "strokeWidth": 3},
              "encoding": {"x": {"field": "x", "type": "quantitative"}, "x2": {"field": "x2"}, "y": {"field": "y", "type": "quantitative"}}
            },
            {
              "data": {"values": [{"x": -0.82, "y": 18.75}]},
              "mark": {"type": "point", "shape": "M0,0L-2,-0.62L-2,0.62Z", "filled": true, "size": 529, "color": "#000000", "opacity": 1},
              "encoding": {"x": {"field": "x", "type": "quantitative"}, "y": {"field": "y", "type": "quantitative"}}
            }
          ]
        }
      ]
    }
  ]
}
